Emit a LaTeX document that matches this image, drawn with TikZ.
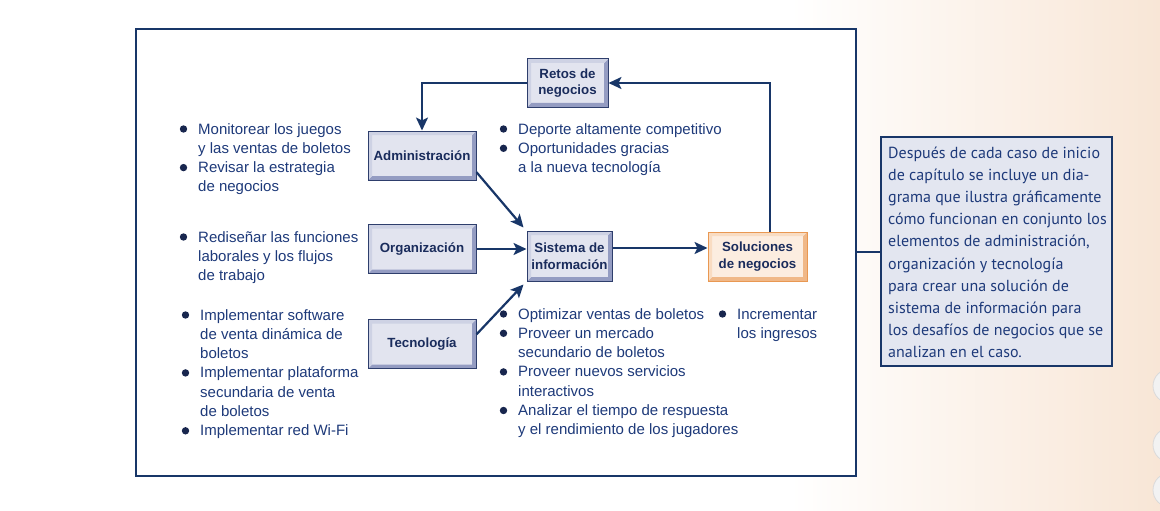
\documentclass[tikz,border=0pt]{standalone}
\usepackage{fontspec}
\setmainfont{Liberation Sans}
\newfontfamily\callfont{PT Sans}
\usetikzlibrary{arrows.meta}

\definecolor{navy}{RGB}{24,54,104}
\definecolor{txtnavy}{RGB}{30,58,122}
\definecolor{boxtxt}{RGB}{26,44,92}
\definecolor{face}{RGB}{226,228,239}
\definecolor{bvlight}{RGB}{206,210,228}
\definecolor{bvdark}{RGB}{148,156,194}
\definecolor{bvborder}{RGB}{46,62,108}
\definecolor{oface}{RGB}{252,237,224}
\definecolor{olight}{RGB}{249,220,194}
\definecolor{odark}{RGB}{240,184,136}
\definecolor{oborder}{RGB}{233,152,82}
\definecolor{peach}{RGB}{248,230,214}
\definecolor{callfill}{RGB}{227,230,240}
\definecolor{bulletc}{RGB}{24,38,78}
\definecolor{dotfill}{RGB}{242,242,242}
\definecolor{dotedge}{RGB}{218,218,218}

\newcommand\bul{\llap{\tikz[baseline=0pt]\fill[bulletc] (0pt,5pt) circle (3.7pt);\hspace{11pt}}}

\tikzset{
  bevel/.style n args={3}{path picture={
    \fill[#2] (path picture bounding box.north east) -- (path picture bounding box.south east)
      -- (path picture bounding box.south west) -- ([shift={(#3,#3)}]path picture bounding box.south west)
      -- ([shift={(-#3,#3)}]path picture bounding box.south east) -- ([shift={(-#3,-#3)}]path picture bounding box.north east) -- cycle;
    \fill[#1] (path picture bounding box.north east) -- (path picture bounding box.north west)
      -- (path picture bounding box.south west) -- ([shift={(#3,#3)}]path picture bounding box.south west)
      -- ([shift={(#3,-#3)}]path picture bounding box.north west) -- ([shift={(-#3,-#3)}]path picture bounding box.north east) -- cycle;
  }},
  sbox/.style={draw=bvborder, line width=1pt, fill=face, bevel={bvlight}{bvdark}{4pt},
    minimum width=108pt, minimum height=49pt, inner sep=0pt,
    font=\fontsize{13.3}{16.8}\selectfont\bfseries, text=boxtxt, align=center},
  obox/.style={sbox, draw=oborder, fill=oface, bevel={olight}{odark}{4pt}},
  lst/.style={anchor=base west, align=left, inner sep=0pt, text=txtnavy,
    font=\fontsize{15}{19.3}\selectfont},
  arr/.style={draw=navy, line width=2.2pt, -{Stealth[length=13pt,width=12pt,inset=3pt]}},
  conn/.style={draw=navy, line width=2pt},
}

\begin{document}
\begin{tikzpicture}[x=1pt,y=-1pt]
\useasboundingbox (0,0) rectangle (1160,511);
\fill[white] (0,0) rectangle (790,511);
\shade[left color=white, right color=peach] (790,0) rectangle (1160,511);
\foreach \cy in {386,445,490}{
  \fill[dotfill, draw=dotedge, line width=0.8pt] (1170,\cy) circle (17pt);
}

% main frame
\node[draw=navy, line width=2pt, fill=white, minimum width=720pt, minimum height=447pt, inner sep=0pt] (frame) at (496,252.5) {};

% boxes
\node[sbox, minimum width=81pt, minimum height=48pt] (ret) at (567.5,83) {Retos de\\negocios};
\node[sbox] (adm) at (422,155.5) {Administración};
\node[sbox] (org) at (422,249) {Organización};
\node[sbox] (tec) at (422,344) {Tecnología};
\node[sbox, minimum width=85pt, minimum height=50pt] (sis) at (569.5,256) {Sistema de\\información};
\node[obox, minimum width=99pt, minimum height=49pt] (sol) at (757.5,256.5) {Soluciones\\de negocios};

% connectors
\draw[arr] (ret.west) -| (adm.north);
\draw[arr] (adm.-17) -- ([shift={(-3pt,3pt)}]sis.north west);
\draw[arr] (org.east) -- (org.east -| sis.west);
\draw[arr] (tec.10) -- ([shift={(-3pt,-3pt)}]sis.south west);
\draw[arr] ([yshift=8pt]sis.east) -- ([yshift=8pt]sis.east -| sol.west);
\draw[arr] ([xshift=12.5pt]sol.north) |- (ret.east);

% bullet lists (anchor = baseline of the last line)
\node[lst] (ladm) at (198,191.9) {\bul Monitorear los juegos\\y las ventas de boletos\\\bul Revisar la estrategia\\de negocios};
\node[lst] (lorg) at (198,280.6) {\bul Rediseñar las funciones\\laborales y los flujos\\de trabajo};
\node[lst] (ltec) at (200,435.8) {\bul Implementar software\\de venta dinámica de\\boletos\\\bul Implementar plataforma\\secundaria de venta\\de boletos\\\bul Implementar red Wi-Fi};
\node[lst] (lret) at (518,172.6) {\bul Deporte altamente competitivo\\\bul Oportunidades gracias\\a la nueva tecnología};
\node[lst] (lsis) at (518,434.8) {\bul Optimizar ventas de boletos\\\bul Proveer un mercado\\secundario de boletos\\\bul Proveer nuevos servicios\\interactivos\\\bul Analizar el tiempo de respuesta\\y el rendimiento de los jugadores};
\node[lst] (lsol) at (737,338.3) {\bul Incrementar\\los ingresos};

% callout
\node[draw=navy, line width=2pt, fill=callfill, minimum width=231pt, minimum height=229pt, inner sep=0pt] (call) at (996.5,251.5) {};
\draw[conn] (frame.east |- call.west) -- (call.west);
\node[anchor=base west, align=left, inner sep=0pt, text=txtnavy, font=\callfont\fontsize{16}{22.2}\selectfont] (calltext) at (888,357.8) {Después de cada caso de inicio\\de capítulo se incluye un dia-\\grama que ilustra gráficamente\\cómo funcionan en conjunto los\\elementos de administración,\\organización y tecnología\\para crear una solución de\\sistema de información para\\los desafíos de negocios que se\\analizan en el caso.};
\end{tikzpicture}
\end{document}
